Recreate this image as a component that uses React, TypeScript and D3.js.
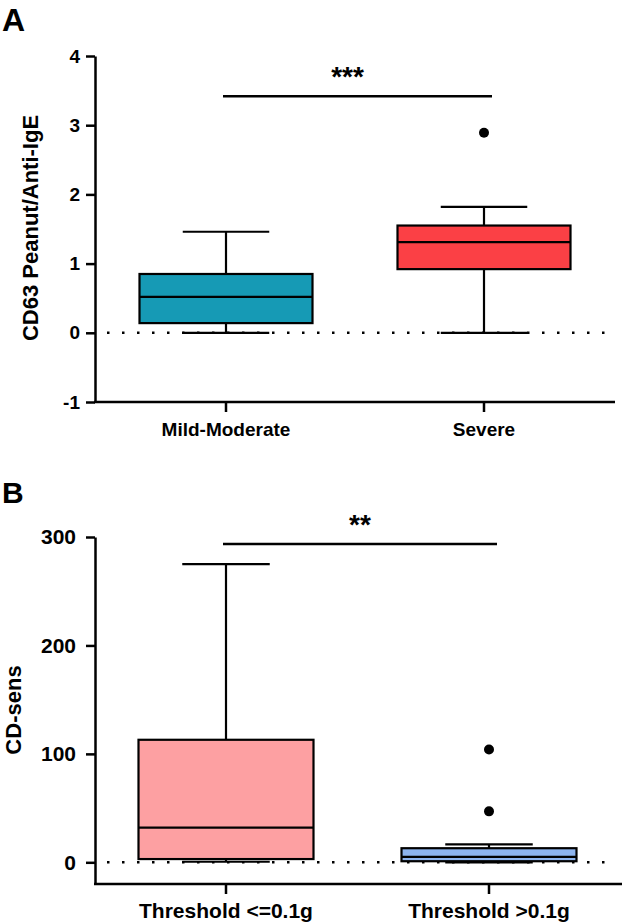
import React, { useEffect, useRef } from "react";
import * as d3 from "d3";

// panel A: CD63 peanut / anti-IgE by severity
const catsA = ["Mild-Moderate", "Severe"];
const statsA = [
  { min: 0, q1: 0.14, median: 0.52, q3: 0.85, max: 1.46 },
  { min: 0, q1: 0.92, median: 1.31, q3: 1.55, max: 1.82 }
];
const outliersA = [[], [2.89]];
const colorsA = ["#169ab5", "#fb4045"];
const ticksA = [-1, 0, 1, 2, 3, 4];

// panel B: CD-sens by threshold
const catsB = ["Threshold <=0.1g", "Threshold >0.1g"];
const statsB = [
  { min: 0.5, q1: 3, median: 32, q3: 113, max: 275 },
  { min: 0, q1: 1, median: 5, q3: 13, max: 16.5 }
];
const outliersB = [[], [104, 47]];
const colorsB = ["#fda0a2", "#8db4ee"];
const ticksB = [0, 100, 200, 300];

const W = 623;
const H = 924;
const FONT = "'Liberation Sans', Arial, sans-serif";

function drawPanel(svg, opt) {
  const g = svg.append("g");
  const y = d3.scaleLinear().domain(opt.domain).range([opt.bottom, opt.top]);
  const x = d3.scalePoint().domain(opt.cats).range(opt.xRange);

  // title letter
  g.append("text")
    .attr("x", 2)
    .attr("y", opt.titleY)
    .attr("font-size", opt.titleSize)
    .attr("font-weight", "bold")
    .attr("font-family", FONT)
    .text(opt.title);

  // y label
  g.append("text")
    .attr("transform", `translate(${opt.labelX},${opt.labelY}) rotate(-90)`)
    .attr("text-anchor", "middle")
    .attr("font-size", 22)
    .attr("font-weight", "bold")
    .attr("font-family", FONT)
    .text(opt.yLabel);

  // y axis
  const yAxis = g
    .append("g")
    .attr("transform", `translate(${opt.left},0)`)
    .call(
      d3
        .axisLeft(y)
        .tickValues(opt.ticks)
        .tickFormat((d) => String(d))
        .tickSize(9)
        .tickSizeOuter(0)
        .tickPadding(opt.tickPad)
    );
  yAxis.select(".domain").attr("stroke-width", 2.5);
  yAxis.selectAll(".tick line").attr("stroke-width", 2.5);
  yAxis
    .selectAll(".tick text")
    .attr("font-size", opt.fontSize)
    .attr("font-weight", "bold")
    .attr("font-family", FONT)
    .attr("fill", "#000");

  // x axis
  g.append("line")
    .attr("x1", opt.left - 1)
    .attr("x2", opt.right)
    .attr("y1", opt.bottom)
    .attr("y2", opt.bottom)
    .attr("stroke", "#000")
    .attr("stroke-width", 2.5);
  opt.cats.forEach((c) => {
    g.append("line")
      .attr("x1", x(c))
      .attr("x2", x(c))
      .attr("y1", opt.bottom)
      .attr("y2", opt.bottom + 10)
      .attr("stroke", "#000")
      .attr("stroke-width", 2.5);
    g.append("text")
      .attr("x", x(c))
      .attr("y", opt.catY)
      .attr("text-anchor", "middle")
      .attr("font-size", opt.fontSize)
      .attr("font-weight", "bold")
      .attr("font-family", FONT)
      .text(c);
  });

  // boxes
  const bw = opt.boxWidth;
  opt.cats.forEach((c, i) => {
    const s = opt.stats[i];
    const cx = x(c);
    const bx = g.append("g").attr("stroke", "#000").attr("stroke-width", 2.2);
    bx.append("line")
      .attr("x1", cx).attr("x2", cx)
      .attr("y1", y(s.max)).attr("y2", y(s.q3));
    bx.append("line")
      .attr("x1", cx).attr("x2", cx)
      .attr("y1", y(s.q1)).attr("y2", y(s.min));
    bx.append("line")
      .attr("x1", cx - bw / 4).attr("x2", cx + bw / 4)
      .attr("y1", y(s.max)).attr("y2", y(s.max));
    bx.append("line")
      .attr("x1", cx - bw / 4).attr("x2", cx + bw / 4)
      .attr("y1", y(s.min)).attr("y2", y(s.min));
    bx.append("rect")
      .attr("x", cx - bw / 2)
      .attr("y", y(s.q3))
      .attr("width", bw)
      .attr("height", y(s.q1) - y(s.q3))
      .attr("fill", opt.colors[i]);
    bx.append("line")
      .attr("x1", cx - bw / 2).attr("x2", cx + bw / 2)
      .attr("y1", y(s.median)).attr("y2", y(s.median));
    opt.outliers[i].forEach((v) => {
      g.append("circle")
        .attr("cx", cx)
        .attr("cy", y(v))
        .attr("r", 5)
        .attr("fill", "#000");
    });
  });

  // dotted zero line
  g.append("line")
    .attr("x1", opt.left + 12)
    .attr("x2", opt.right - 8)
    .attr("y1", y(0))
    .attr("y2", y(0))
    .attr("stroke", "#000")
    .attr("stroke-width", 2.5)
    .attr("stroke-dasharray", "2.5 12.5");

  // significance bar
  const x1 = x(opt.cats[0]) - 3;
  const x2 = x(opt.cats[1]) + 8;
  g.append("line")
    .attr("x1", x1)
    .attr("x2", x2)
    .attr("y1", y(opt.sigValue))
    .attr("y2", y(opt.sigValue))
    .attr("stroke", "#000")
    .attr("stroke-width", 2.5);
  g.append("text")
    .attr("x", (x1 + x2) / 2 + opt.sigShift)
    .attr("y", y(opt.sigValue) - 10)
    .attr("text-anchor", "middle")
    .attr("font-size", 28)
    .attr("font-weight", "bold")
    .attr("font-family", FONT)
    .text(opt.sigText);
}

export default function App() {
  const ref = useRef(null);

  useEffect(() => {
    const svg = d3.select(ref.current);
    svg.selectAll("*").remove();

    drawPanel(svg, {
      title: "A",
      titleY: 31,
      titleSize: 32,
      yLabel: "CD63 Peanut/Anti-IgE",
      labelX: 38,
      labelY: 228,
      domain: [-1, 4],
      top: 56,
      bottom: 402,
      left: 95,
      right: 615,
      xRange: [226, 484],
      cats: catsA,
      stats: statsA,
      outliers: outliersA,
      colors: colorsA,
      ticks: ticksA,
      tickPad: 6,
      fontSize: 19,
      catY: 436,
      boxWidth: 173,
      sigValue: 3.42,
      sigText: "***",
      sigShift: -10
    });

    drawPanel(svg, {
      title: "B",
      titleY: 503,
      titleSize: 30,
      yLabel: "CD-sens",
      labelX: 21,
      labelY: 710,
      domain: [-20, 300],
      top: 537,
      bottom: 884,
      left: 95,
      right: 622,
      xRange: [226, 489],
      cats: catsB,
      stats: statsB,
      outliers: outliersB,
      colors: colorsB,
      ticks: ticksB,
      tickPad: 10,
      fontSize: 21,
      catY: 918,
      boxWidth: 175,
      sigValue: 293.5,
      sigText: "**",
      sigShift: 0
    });
  }, []);

  return (
    <svg
      ref={ref}
      width={W}
      height={H}
      style={{ position: "absolute", left: 0, top: 0, background: "#fff" }}
    />
  );
}
